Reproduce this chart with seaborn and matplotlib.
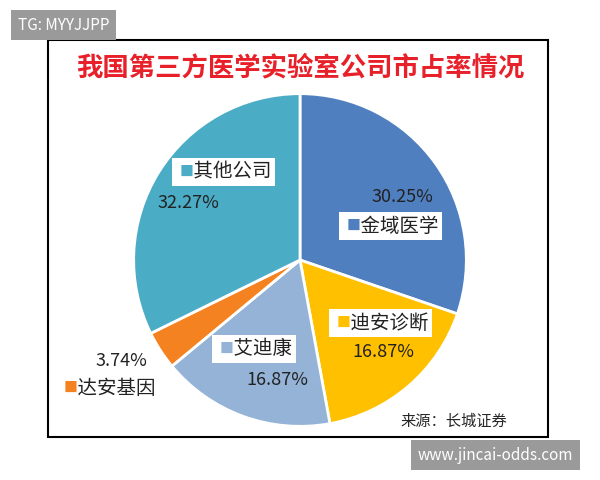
import matplotlib.pyplot as plt
import matplotlib.patches as mpatches
import seaborn as sns

sns.set_style("white")
plt.rcParams['font.family'] = ['Noto Sans CJK SC', 'DejaVu Sans']

# market share data, clockwise from the top
companies = ['金域医学', '迪安诊断', '艾迪康', '达安基因', '其他公司']
shares = [30.25, 16.87, 16.87, 3.74, 32.27]
colors = ['#4f7fbf', '#ffc000', '#95b3d7', '#f58220', '#4bacc6']

# label positions in pixels (name box left x, y; percent x, y)
name_pos = [(343, 226), (333, 323), (216, 349), (60, 388), (176, 172)]
pct_pos = [(372, 197), (352, 352), (246, 380), (96, 361), (157, 203)]

W, H = 600, 480
fig = plt.figure(figsize=(6, 4.8), dpi=100)

# outer frame
fig.patches.append(mpatches.Rectangle((48 / W, 1 - 437 / H), 500 / W, 397 / H,
                                      transform=fig.transFigure, fill=False,
                                      edgecolor='black', linewidth=1.5))

ax = fig.add_axes([132 / W, 1 - 428 / H, 336 / W, 336 / H])
ax.pie(shares, colors=colors, startangle=90, counterclock=False,
       wedgeprops=dict(edgecolor='white', linewidth=2))
ax.set_xlim(-1.01, 1.01)
ax.set_ylim(-1.01, 1.01)
ax.set_aspect('equal')

fig.text(300 / W, 1 - 68 / H, '我国第三方医学实验室公司市占率情况', color='#e8202a',
         fontsize=19, fontweight='bold', ha='center', va='center')

for name, share, c, (nx, ny), (px, py) in zip(companies, shares, colors, name_pos, pct_pos):
    fig.text(nx / W, 1 - ny / H, '    ' + name, fontsize=14, ha='left', va='center',
             color='#222222',
             bbox=dict(boxstyle='square,pad=0.2', facecolor='white', edgecolor='none'))
    fig.text((nx + 4) / W, 1 - ny / H, '■', fontsize=10, color=c, ha='left', va='center')
    fig.text(px / W, 1 - py / H, f'{share:.2f}%', fontsize=13, ha='left', va='center',
             color='#222222')

fig.text(400 / W, 1 - 421 / H, '来源：长城证券', fontsize=11, ha='left', va='center')

# watermark boxes
fig.text(18 / W, 1 - 25 / H, 'TG: MYYJJPP', fontsize=11, color='white', ha='left', va='center',
         bbox=dict(boxstyle='square,pad=0.45', facecolor='#9a9a9a', edgecolor='none'))
fig.text(418 / W, 1 - 455 / H, 'www.jincai-odds.com', fontsize=11, color='white', ha='left',
         va='center',
         bbox=dict(boxstyle='square,pad=0.45', facecolor='#9a9a9a', edgecolor='none'))

fig.savefig('out.png', dpi=100)
